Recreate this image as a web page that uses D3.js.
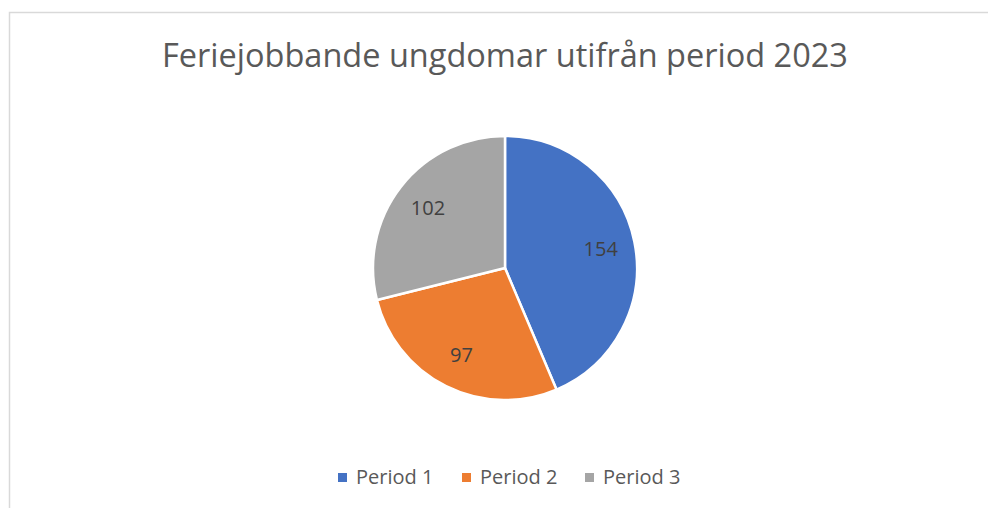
<!DOCTYPE html>
<html>
<head>
<meta charset="utf-8">
<script src="https://cdn.jsdelivr.net/npm/d3@7"></script>
<style>
  body { margin: 0; background: #fff; }
  svg { display: block; font-family: "Open Sans", "Noto Sans", sans-serif; }
</style>
</head>
<body>
<div id="chart"></div>
<script>
var title = "Feriejobbande ungdomar utifrån period 2023";
var categories = ["Period 1", "Period 2", "Period 3"];
var values = [154, 97, 102];
var colors = ["#4472c4", "#ed7d31", "#a5a5a5"];

var width = 988, height = 508,
    cx = 505, cy = 268, radius = 132;

var svg = d3.select("#chart").append("svg")
    .attr("width", width)
    .attr("height", height);

// chart area border
svg.append("rect")
    .attr("x", 9.5).attr("y", 12.5)
    .attr("width", width + 20).attr("height", height + 20)
    .attr("fill", "#fff")
    .attr("stroke", "#d9d9d9")
    .attr("stroke-width", 1.5);

svg.append("text")
    .attr("x", 505).attr("y", 67)
    .attr("text-anchor", "middle")
    .attr("fill", "#595959")
    .style("font-size", "32.5px")
    .text(title);

var color = d3.scaleOrdinal().domain(categories).range(colors);

var pie = d3.pie().sort(null).value(function (d) { return d.value; });
var data = categories.map(function (c, i) { return {name: c, value: values[i]}; });
var arcs = pie(data);

var arc = d3.arc().innerRadius(0).outerRadius(radius);
var labelArc = d3.arc().innerRadius(radius * 0.74).outerRadius(radius * 0.74);

var g = svg.append("g").attr("transform", "translate(" + cx + "," + cy + ")");

g.selectAll(".slice")
    .data(arcs)
  .enter().append("path")
    .attr("class", "slice")
    .attr("d", arc)
    .attr("fill", function (d) { return color(d.data.name); })
    .attr("stroke", "#fff")
    .attr("stroke-width", 2.5)
    .attr("stroke-linejoin", "round");

g.selectAll(".lbl")
    .data(arcs)
  .enter().append("text")
    .attr("class", "lbl")
    .attr("transform", function (d) { return "translate(" + labelArc.centroid(d) + ")"; })
    .attr("text-anchor", "middle")
    .attr("dy", "0.35em")
    .attr("fill", "#404040")
    .style("font-size", "20px")
    .text(function (d) { return d.data.value; });

// legend
var legendX = [338, 462, 585];
var legend = svg.selectAll(".legend")
    .data(categories)
  .enter().append("g")
    .attr("class", "legend")
    .attr("transform", function (d, i) { return "translate(" + legendX[i] + ",473)"; });

legend.append("rect")
    .attr("width", 9).attr("height", 9)
    .attr("fill", function (d) { return color(d); });

legend.append("text")
    .attr("x", 18).attr("y", 11)
    .attr("fill", "#595959")
    .style("font-size", "20px")
    .text(function (d) { return d; });
</script>
</body>
</html>
